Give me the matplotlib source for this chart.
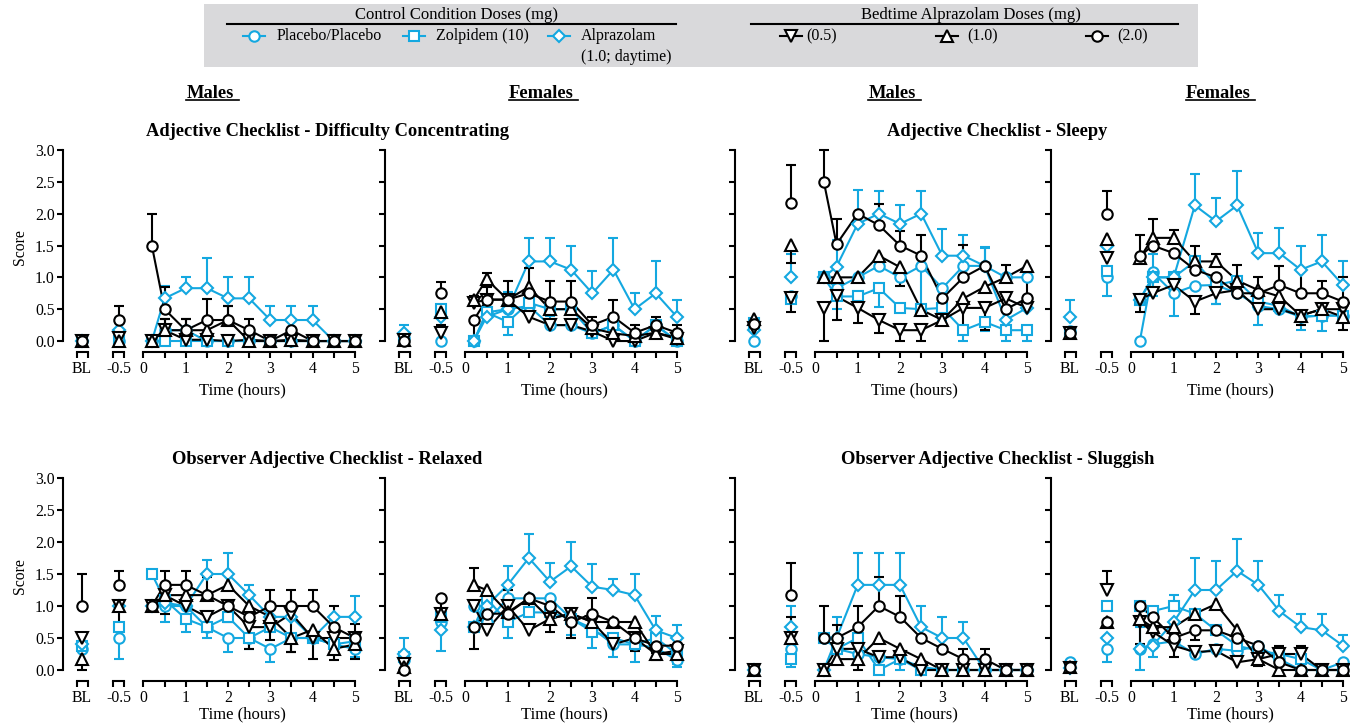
import numpy as np
import matplotlib
matplotlib.use("Agg")
import matplotlib.pyplot as plt
from matplotlib.lines import Line2D
from matplotlib.patches import Rectangle
from matplotlib.transforms import ScaledTranslation

plt.rcParams["font.family"] = ["Liberation Serif", "DejaVu Serif"]

W, H = 1350, 726
CYAN = "#14a8e0"

# sampling points: two pre-dose slots, then hours after the bedtime dose
slot_labels = ["BL", "-0.5"]
hours = [0.2, 0.5, 1.0, 1.5, 2.0, 2.5, 3.0, 3.5, 4.0, 4.5, 5.0]

series_labels = ["Placebo/Placebo", "Zolpidem (10)", "Alprazolam\n(1.0; daytime)",
                 "(0.5)", "(1.0)", "(2.0)"]
series_colors = [CYAN, CYAN, CYAN, "black", "black", "black"]
series_markers = ["o", "s", "D", "v", "^", "o"]
series_msize = [7.5, 6.8, 6.2, 8.0, 8.0, 7.5]

# rows: placebo, zolpidem, alprazolam daytime, bedtime alprazolam 0.5 / 1.0 / 2.0
# columns: BL, -0.5, then one per entry of `hours`
# *_err: SEM bar length; negative values are drawn below the mean
dc_male_mean = [
    [0, 0, 0, 0.17, 0.17, 0, 0, 0, 0, 0, 0, 0, 0],
    [0, 0, 0, 0, 0, 0, 0, 0, 0, 0, 0, 0, 0],
    [0, 0.17, 0, 0.67, 0.83, 0.83, 0.67, 0.67, 0.33, 0.33, 0.33, 0, 0],
    [0, 0.05, 0, 0.17, 0.02, 0.02, 0, 0.02, 0, 0, 0, 0, 0],
    [0, 0, 0, 0.17, 0.17, 0.17, 0.33, 0, 0, 0.02, 0, 0, 0],
    [0, 0.33, 1.5, 0.5, 0.17, 0.33, 0.33, 0.17, 0, 0.17, 0, 0, 0],
]
dc_male_err = [
    [0, 0, 0, 0, 0, 0, 0, 0, 0, 0, 0, 0, 0],
    [0, 0, 0, 0, 0, 0, 0, 0, 0, 0, 0, 0, 0],
    [0, 0.17, 0, 0.2, 0.17, 0.47, 0.33, 0.33, 0.22, 0.22, 0.22, 0, 0],
    [0, 0, 0, 0.17, 0, 0, 0, 0, 0, 0, 0, 0, 0],
    [0, 0, 0, 0.17, 0.17, 0.17, 0.22, 0, 0, 0, 0, 0, 0],
    [0, 0.22, 0.5, 0.35, 0.17, 0.33, 0.22, 0.17, 0, 0, 0, 0, 0],
]

dc_female_mean = [
    [0.05, 0.0, 0, 0.45, 0.5, 0.55, 0.25, 0.25, 0.12, 0.25, 0, 0.25, 0],
    [0.05, 0.5, 0, 0.45, 0.3, 0.6, 0.5, 0.5, 0.12, 0.25, 0, 0.25, 0],
    [0.13, 0.38, 0, 0.38, 0.5, 1.25, 1.25, 1.12, 0.75, 1.12, 0.5, 0.75, 0.38],
    [0.02, 0.13, 0.6, 0.65, 0.65, 0.38, 0.25, 0.25, 0.15, 0, 0, 0.13, 0.03],
    [0.02, 0.45, 0.65, 0.97, 0.65, 0.85, 0.5, 0.5, 0.2, 0.12, 0.08, 0.13, 0.05],
    [0, 0.75, 0.33, 0.65, 0.65, 0.75, 0.62, 0.62, 0.25, 0.38, 0.13, 0.25, 0.13],
]
dc_female_err = [
    [0, 0, 0, 0.15, 0, 0, 0.15, 0, 0, 0, 0, 0, 0],
    [0, 0, 0, 0, -0.2, 0, 0, 0, 0, 0, 0, 0, 0],
    [0.12, 0, 0, 0.15, 0.27, 0.37, 0.37, 0.38, 0.35, 0.5, 0.25, 0.5, 0.27],
    [0, 0.12, 0, 0.2, 0, 0, 0, 0, 0, 0, 0, 0, 0],
    [0, 0.1, 0.05, 0.1, 0, 0.3, 0, 0, 0, 0, 0, 0, 0],
    [0, 0.17, -0.26, 0, 0.3, 0, 0.33, 0.33, 0.13, 0.27, 0.12, 0.13, 0.12],
]

sl_male_mean = [
    [0.0, 0.7, 1.0, 0.83, 1.0, 1.18, 1.0, 1.18, 0.83, 1.18, 1.18, 1.0, 1.0],
    [0.28, 0.66, 1.0, 0.7, 0.7, 0.83, 0.52, 0.5, 0.52, 0.17, 0.3, 0.17, 0.17],
    [0.17, 1.0, 1.0, 1.17, 1.84, 2.0, 1.84, 2.0, 1.34, 1.34, 1.18, 0.33, 0.52],
    [0.2, 0.68, 0.52, 0.7, 0.52, 0.33, 0.17, 0.17, 0.33, 0.52, 0.52, 0.67, 0.52],
    [0.35, 1.51, 1.0, 1.0, 1.0, 1.34, 1.16, 0.49, 0.33, 0.67, 0.85, 1.0, 1.18],
    [0.26, 2.17, 2.5, 1.52, 2.0, 1.82, 1.5, 1.34, 0.67, 1.0, 1.18, 0.5, 0.67],
]
sl_male_err = [
    [0, 0, 0, 0, 0, 0, 0, -0.7, 0, 0, 0.28, 0, 0],
    [0, 0, 0, -0.2, -0.15, -0.3, 0, 0, -0.2, -0.17, -0.15, -0.17, -0.17],
    [0.1, 0.37, 0, 0.41, 0.53, 0.36, 0.3, 0.36, 0.42, 0.33, 0.3, 0, 0],
    [0, -0.22, -0.52, -0.37, -0.24, -0.2, -0.17, -0.17, 0, -0.35, -0.35, 0, 0],
    [0, -0.28, 0, 0, 0, 0, -0.3, 0, 0, 0, 0, 0.2, 0],
    [0, 0.6, 0.5, 0.4, 0, 0.33, 0.22, 0.33, 0.21, 0.51, 0, 0.2, 0.35],
]

sl_female_mean = [
    [0.15, 1.0, 0.0, 1.08, 0.75, 0.87, 0.88, 0.75, 0.55, 0.5, 0.38, 0.4, 0.4],
    [0.12, 1.1, 0.65, 1.0, 1.0, 1.25, 0.88, 0.95, 0.62, 0.55, 0.38, 0.4, 0.4],
    [0.38, 1.5, 0.65, 1.0, 1.0, 2.13, 1.88, 2.13, 1.38, 1.38, 1.12, 1.25, 0.88],
    [0.12, 1.3, 0.65, 0.75, 0.88, 0.62, 0.75, 0.8, 0.5, 0.5, 0.4, 0.5, 0.5],
    [0.12, 1.6, 1.3, 1.62, 1.62, 1.25, 1.25, 0.95, 0.8, 0.7, 0.4, 0.5, 0.38],
    [0.13, 2.0, 1.33, 1.5, 1.38, 1.12, 1.0, 0.75, 0.75, 0.88, 0.75, 0.75, 0.62],
]
sl_female_err = [
    [0, -0.3, 0, 0.28, -0.35, 0, -0.3, 0, -0.3, 0, -0.2, -0.25, 0],
    [0, 0, 0, -0.3, 0, 0, -0.3, 0, 0, 0, 0, 0, 0],
    [0.27, 0, 0, 0, 0, 0.5, 0.37, 0.54, 0.32, 0.4, 0.38, 0.42, 0.37],
    [0, 0, -0.2, 0, 0, -0.2, 0, 0, 0, 0, -0.15, 0, 0],
    [0, 0, 0, 0.3, 0.13, 0, 0.12, 0, 0, 0, 0, 0, -0.2],
    [0, 0.35, 0.34, 0, 0, 0.38, 0, 0.45, 0.25, 0.3, 0.35, 0.2, 0.38],
]

rx_male_mean = [
    [0.33, 0.5, 1.0, 1.0, 1.0, 0.67, 0.5, 0.5, 0.33, 0.5, 0.5, 0.4, 0.33],
    [0.38, 0.67, 1.5, 1.1, 0.8, 0.67, 0.83, 0.5, 0.67, 0.5, 0.5, 0.4, 0.45],
    [0.4, 1.0, 1.0, 1.05, 1.0, 1.5, 1.5, 1.17, 0.83, 0.83, 0.5, 0.83, 0.83],
    [0.5, 1.0, 1.0, 1.17, 1.0, 0.83, 1.0, 0.67, 0.67, 0.88, 0.5, 0.5, 0.5],
    [0.17, 1.0, 1.0, 1.17, 1.17, 1.17, 1.33, 1.0, 0.83, 0.5, 0.63, 0.33, 0.4],
    [1.0, 1.33, 1.0, 1.33, 1.33, 1.17, 1.0, 0.83, 1.0, 1.0, 1.0, 0.67, 0.5],
]
rx_male_err = [
    [0, -0.33, 0, -0.25, 0, 0, -0.22, 0, -0.2, 0, 0, 0, 0],
    [0, 0, 0, 0, -0.2, -0.17, 0, -0.17, 0, 0, 0, 0, -0.25],
    [0, 0, 0, 0, 0, 0.22, 0.33, 0.16, 0, 0, 0, 0, 0.32],
    [0, 0, 0, 0, -0.2, 0, -0.25, -0.34, -0.2, -0.6, -0.33, 0, 0],
    [-0.17, -0.33, 0, -0.3, 0, 0, 0, 0, 0, -0.22, 0, -0.17, -0.23],
    [0.5, 0.22, 0, 0.22, 0.22, 0.28, 0, 0, 0.25, 0.25, 0.25, 0.33, 0.22],
]

rx_female_mean = [
    [0.15, 0.75, 1.0, 0.75, 1.12, 1.12, 1.12, 0.8, 0.65, 0.4, 0.4, 0.35, 0.15],
    [0.2, 0.83, 0.67, 1.12, 0.75, 0.9, 0.9, 0.8, 0.6, 0.5, 0.4, 0.5, 0.25],
    [0.25, 0.62, 0.67, 1.0, 1.33, 1.75, 1.38, 1.62, 1.3, 1.25, 1.17, 0.62, 0.5],
    [0.1, 0.88, 1.0, 0.62, 1.0, 0.62, 0.8, 0.88, 0.75, 0.4, 0.5, 0.25, 0.3],
    [0.05, 0.88, 1.33, 1.25, 0.9, 1.12, 0.8, 0.88, 0.75, 0.75, 0.75, 0.25, 0.25],
    [0.0, 1.12, 0.67, 0.88, 0.88, 1.12, 1.0, 0.75, 0.88, 0.75, 0.5, 0.38, 0.38],
]
rx_female_err = [
    [0, 0, 0, 0, 0.13, 0, 0, 0, 0, 0, 0, 0, -0.1],
    [0, 0, 0, -0.25, -0.25, 0, 0, -0.25, -0.25, -0.3, -0.28, 0, -0.15],
    [0.25, -0.32, 0, 0, 0.29, 0.37, 0.29, 0.38, 0.35, 0.17, 0.33, 0.23, 0.2],
    [0, 0, 0, 0, 0, 0, 0, 0, 0, 0, 0, 0, 0],
    [0, 0, 0.27, 0, 0, -0.2, -0.2, 0, 0, 0, 0, -0.1, -0.1],
    [0, -0.5, -0.34, 0, 0.37, 0, 0, -0.25, 0.24, 0, -0.2, -0.12, 0],
]

sg_male_mean = [
    [0, 0.33, 0.5, 0.33, 0.25, 0.2, 0.17, 0.05, 0, 0, 0, 0, 0],
    [0, 0.17, 0.5, 0.33, 0.5, 0.0, 0.17, 0.0, 0, 0, 0, 0, 0],
    [0, 0.67, 0.0, 0.5, 1.33, 1.33, 1.33, 0.67, 0.5, 0.5, 0, 0, 0],
    [0, 0.5, 0.0, 0.33, 0.33, 0.2, 0.2, 0.0, 0, 0, 0, 0, 0],
    [0, 0.5, 0.0, 0.17, 0.17, 0.5, 0.33, 0.17, 0, 0, 0, 0, 0],
    [0, 1.17, 0.5, 0.5, 0.67, 1.0, 0.83, 0.5, 0.33, 0.17, 0.17, 0, 0],
]
sg_male_err = [
    [0, 0, 0, 0, 0, 0, -0.17, 0, 0, 0, 0, 0, 0],
    [0, -0.12, 0, 0, 0, 0, 0, 0, 0, 0, 0, 0, 0],
    [0, 0.33, 0, 0.33, 0.5, 0.5, 0.5, 0.33, 0.33, 0.25, 0, 0, 0],
    [0, 0, 0, 0.37, 0, 0, 0, 0, 0, 0, 0, 0, 0],
    [0, 0.33, 0, 0, -0.17, 0, 0, 0, 0, 0, 0, 0, 0],
    [0, 0.5, 0.5, 0, 0.33, 0.46, 0.32, 0, 0, 0.16, 0.16, 0, 0],
]

sg_female_mean = [
    [0.13, 0.33, 0.33, 0.4, 0.45, 0.25, 0.33, 0.3, 0.38, 0.17, 0.0, 0.0, 0.12],
    [0.05, 1.0, 1.0, 0.92, 1.0, 0.88, 0.62, 0.38, 0.3, 0.25, 0.17, 0.0, 0.0],
    [0.03, 0.5, 0.33, 0.38, 0.75, 1.25, 1.25, 1.55, 1.33, 0.92, 0.67, 0.62, 0.38],
    [0.03, 1.25, 0.75, 0.6, 0.38, 0.28, 0.3, 0.12, 0.17, 0.25, 0.25, 0.0, 0.0],
    [0.05, 0.75, 0.8, 0.67, 0.67, 0.88, 1.03, 0.62, 0.17, 0.0, 0.0, 0.0, 0.0],
    [0.05, 0.75, 1.0, 0.83, 0.5, 0.62, 0.62, 0.5, 0.38, 0.12, 0.0, 0.0, 0.0],
]
sg_female_err = [
    [0, -0.2, 0.34, 0, 0, 0, 0, 0, 0, 0, 0, 0, 0],
    [0, 0, 0, 0, 0.17, 0, 0, 0, 0, 0, 0, 0, 0],
    [0, 0, -0.33, -0.18, 0, 0.5, 0.45, 0.5, 0.37, 0.25, 0.21, 0.26, 0.17],
    [0, 0.3, 0, 0, -0.18, 0, 0, 0, 0, 0.13, 0.13, 0, 0],
    [0, 0, 0, 0, 0, 0, 0, 0, -0.1, 0, 0, 0, 0],
    [0, 0, -0.6, 0, 0, -0.15, 0, 0, 0, 0, 0, 0, 0],
]

# where the two pre-dose slots sit on the time axis
BL_X, PRE_X = -1.45, -0.58
BRACKET_HW = 0.13
SPINE_OUT = 3.5  # points
LW = 1.5


def px(x, y):
    """pixel position (from top-left) -> figure fraction"""
    return x / W, 1 - y / H


def style_axes(ax, fig, first_col):
    ax.set_xlim(-1.9, 5.12)
    ax.set_ylim(-0.1, 3.05)
    for side in ("top", "right"):
        ax.spines[side].set_visible(False)
    ax.spines["left"].set_bounds(0, 3)
    ax.spines["bottom"].set_bounds(0, 5)
    ax.spines["bottom"].set_position(("outward", SPINE_OUT))
    for side in ("left", "bottom"):
        ax.spines[side].set_linewidth(LW)

    ax.set_yticks(np.arange(0, 3.01, 0.5))
    ax.set_yticklabels([f"{v:.1f}" for v in np.arange(0, 3.01, 0.5)])
    ax.set_xticks([BL_X, PRE_X, 0, 1, 2, 3, 4, 5])
    ax.set_xticklabels(slot_labels + ["0", "1", "2", "3", "4", "5"])
    ax.set_xticks([BL_X - BRACKET_HW, BL_X + BRACKET_HW,
                   PRE_X - BRACKET_HW, PRE_X + BRACKET_HW,
                   0.5, 1.5, 2.5, 3.5, 4.5], minor=True)
    ax.tick_params(which="both", length=4.5, width=LW, direction="out")
    ax.tick_params(axis="x", which="major", pad=1.5, labelsize=11.3)
    ax.tick_params(axis="y", pad=1.5, labelsize=11.3, labelleft=first_col)
    for t in ax.xaxis.get_major_ticks()[:2]:
        t.tick1line.set_visible(False)

    # short bracket segments under the BL and -0.5 slots
    tr = ax.get_xaxis_transform() + ScaledTranslation(0, -SPINE_OUT / 72, fig.dpi_scale_trans)
    for xc in (BL_X, PRE_X):
        ax.add_line(Line2D([xc - BRACKET_HW, xc + BRACKET_HW], [0, 0], transform=tr,
                           color="black", lw=LW, clip_on=False, solid_capstyle="projecting"))

    ax.set_xlabel("Time (hours)", fontsize=12)
    if first_col:
        ax.set_ylabel("Score", fontsize=11.3)
        ax.yaxis.set_label_coords(-0.118, 0.5)


def draw_panel(ax, means, errs):
    x_all = np.array([BL_X, PRE_X] + hours)
    for i, (m, e) in enumerate(zip(means, errs)):
        m, e = np.asarray(m, float), np.asarray(e, float)
        c = series_colors[i]
        z = 2.1 if c == "black" else 2.0
        ax.plot(hours, m[2:], color=c, lw=LW, zorder=z)
        keep = e != 0
        if keep.any():
            tips = m[keep] + e[keep]
            ax.vlines(x_all[keep], m[keep], tips, color=c, lw=LW, zorder=z)
            ax.plot(x_all[keep], tips, ls="none", marker="_", ms=7, mew=LW,
                    color=c, zorder=z)
    for i, m in enumerate(means):
        ax.plot(x_all, m, ls="none", marker=series_markers[i], ms=series_msize[i],
                mfc="white", mec=series_colors[i], mew=LW, zorder=3 + 0.01 * i,
                clip_on=False)


fig = plt.figure(figsize=(W / 100, H / 100), dpi=100)

# right-hand column pulled in a little so its last tick label stays on the canvas
col_left = [63, 385, 735, 1051]
ax_w = 297
rows = [
    (146.8, 347.4, [(dc_male_mean, dc_male_err), (dc_female_mean, dc_female_err),
                    (sl_male_mean, sl_male_err), (sl_female_mean, sl_female_err)]),
    (474.8, 676.4, [(rx_male_mean, rx_male_err), (rx_female_mean, rx_female_err),
                    (sg_male_mean, sg_male_err), (sg_female_mean, sg_female_err)]),
]
xlabel_y = [-0.212, -0.187]

for r, (top, bottom, panels) in enumerate(rows):
    for c, (means, errs) in enumerate(panels):
        ax = fig.add_axes([col_left[c] / W, 1 - bottom / H, ax_w / W, (bottom - top) / H])
        ax.patch.set_visible(False)
        style_axes(ax, fig, first_col=(c == 0))
        ax.xaxis.set_label_coords((2.35 + 1.9) / 7.02, xlabel_y[r])
        ax.xaxis.label.set_va("center")
        draw_panel(ax, means, errs)

# panel titles
titles = [
    ("Adjective Checklist - Difficulty Concentrating", 327, 132),
    ("Adjective Checklist - Sleepy", 997, 132),
    ("Observer Adjective Checklist - Relaxed", 327, 460),
    ("Observer Adjective Checklist - Sluggish", 998, 460),
]
for text, x, y in titles:
    fig.text(*px(x, y), text, ha="center", va="center", fontsize=13.3, fontweight="bold")

sex_labels = []
for text, x in [("Males", 210), ("Females", 541), ("Males", 892), ("Females", 1218)]:
    sex_labels.append(fig.text(*px(x, 93), text, ha="center", va="center",
                               fontsize=13.3, fontweight="bold"))

# legend panel
fig.add_artist(Rectangle(px(204, 67), 994 / W, 63 / H, transform=fig.transFigure,
                         facecolor="#d9d9db", edgecolor="none", zorder=0))
for text, xc, x0, x1 in [("Control Condition Doses (mg)", 457, 227, 676),
                         ("Bedtime Alprazolam Doses (mg)", 971, 751, 1178)]:
    fig.text(*px(xc, 15), text, ha="center", va="center", fontsize=12)
    fig.add_artist(Line2D([x0 / W, x1 / W], [1 - 24 / H] * 2, transform=fig.transFigure,
                          color="black", lw=LW))

legend_slots = [(254, 277), (414, 436), (559, 581), (791, 806), (947, 967), (1097, 1117)]
for i, (mx, tx) in enumerate(legend_slots):
    y = 1 - 36 / H
    fig.add_artist(Line2D([(mx - 11) / W, (mx + 11) / W], [y, y], transform=fig.transFigure,
                          color=series_colors[i], lw=LW))
    fig.add_artist(Line2D([mx / W], [y], transform=fig.transFigure, ls="none",
                          marker=series_markers[i], ms=series_msize[i], mfc="white",
                          mec=series_colors[i], mew=LW))
    first, *rest = series_labels[i].split("\n")
    fig.text(tx / W, y, first, ha="left", va="center", fontsize=11.5)
    for k, line in enumerate(rest):
        fig.text(tx / W, 1 - (57 + 21 * k) / H, line, ha="left", va="center", fontsize=11.5)

# underline the Males / Females headings
fig.canvas.draw()
renderer = fig.canvas.get_renderer()
for t in sex_labels:
    bb = t.get_window_extent(renderer)
    y = (bb.y0 + 2) / H
    fig.add_artist(Line2D([bb.x0 / W, (bb.x1 + 5) / W], [y, y], transform=fig.transFigure,
                          color="black", lw=1.2))

fig.savefig("out.png", dpi=100)
